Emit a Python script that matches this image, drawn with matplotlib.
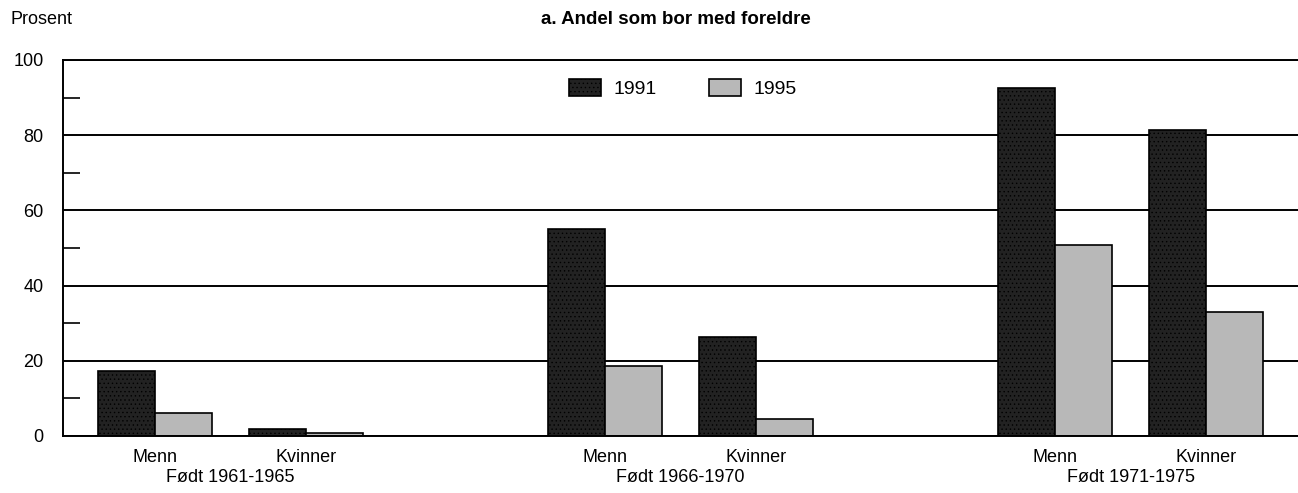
import numpy as np
import matplotlib.pyplot as plt
from matplotlib.ticker import MultipleLocator

# Data
cohorts = ['Født 1961-1965', 'Født 1966-1970', 'Født 1971-1975']
sexes = ['Menn', 'Kvinner']
years = ['1991', '1995']
v1991 = [17.3, 1.9, 55.0, 26.3, 92.5, 81.4]   # Menn, Kvinner per cohort
v1995 = [6.1, 0.8, 18.6, 4.5, 50.8, 33.0]

plt.rcParams['font.family'] = ['Liberation Sans', 'DejaVu Sans']
plt.rcParams['hatch.color'] = '#444444'
plt.rcParams['hatch.linewidth'] = 0.5

fig = plt.figure(figsize=(12.98, 4.93), dpi=100)
ax = fig.add_axes([63/1298, 1 - 436/493, 1 - 63/1298, (436 - 60)/493])

w = 1.0
group_gap = 7.9
sex_gap = 2.65
centers = []
for g in range(len(cohorts)):
    for s in range(len(sexes)):
        centers.append(1.61 + g*group_gap + s*sex_gap)
centers = np.array(centers)

ax.set_axisbelow(True)
ax.grid(axis='y', color='black', linewidth=1.4)
ax.bar(centers - w/2, v1991, w, color='#222222', edgecolor='black', linewidth=1.2,
       hatch='....', label=years[0])
ax.bar(centers + w/2, v1995, w, color='#b8b8b8', edgecolor='black', linewidth=1.2,
       label=years[1])

ax.set_xlim(0, (1298 - 63)/57)
ax.set_ylim(0, 100)
ax.yaxis.set_major_locator(MultipleLocator(20))
ax.yaxis.set_minor_locator(MultipleLocator(10))
ax.tick_params(axis='y', which='both', direction='in', length=12, width=1.2, labelsize=13, pad=14)
ax.tick_params(axis='y', which='major', length=0)

ax.set_xticks(centers)
ax.set_xticklabels(sexes * len(cohorts), fontsize=13)
ax.tick_params(axis='x', length=0, pad=9)
for g, c in enumerate(cohorts):
    xc = (centers[2*g] + centers[2*g + 1]) / 2
    ax.text(xc, -8.9, c, ha='center', va='top', fontsize=13, transform=ax.transData)

ax.spines['right'].set_visible(False)
for side in ['left', 'bottom', 'top']:
    ax.spines[side].set_linewidth(1.4)

ax.legend(loc='upper center', bbox_to_anchor=(0.502, 0.995), ncol=2, frameon=False,
          fontsize=14, handlelength=1.65, handleheight=0.9, handletextpad=0.65,
          columnspacing=2.7)

fig.text(10/1298, 1 - 20/493, 'Prosent', fontsize=13, va='center', ha='left')
fig.text(676/1298, 1 - 20/493, 'a. Andel som bor med foreldre', fontsize=13.5,
         fontweight='bold', va='center', ha='center')

fig.savefig('out.png', dpi=100)
